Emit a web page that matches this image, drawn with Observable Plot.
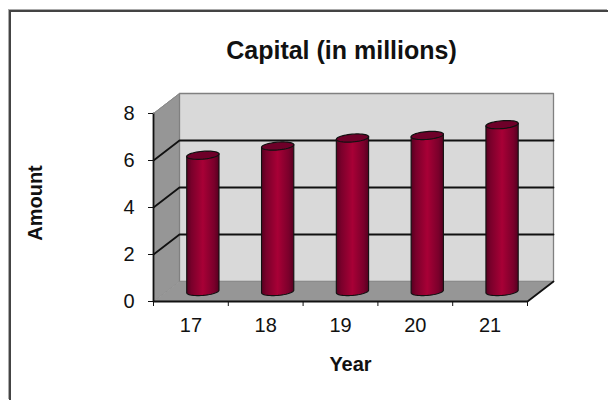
<!DOCTYPE html>
<html>
<head>
<meta charset="utf-8">
<script src="https://cdn.jsdelivr.net/npm/d3@7"></script>
<script src="https://cdn.jsdelivr.net/npm/@observablehq/plot@0.6"></script>
<style>
html,body{margin:0;padding:0;background:#fff;overflow:hidden}
#chart{position:relative;width:608px;height:400px}
#chart svg{position:absolute;left:0;top:0;background:transparent}
#edge{position:absolute;left:9px;top:10px;right:0;bottom:0;border-left:2px solid #444;border-top:2px solid #444;box-shadow:-1px -1px 0 #aaa}
</style>
</head>
<body>
<div id="chart"><div id="edge"></div></div>
<script>
const years = ["17", "18", "19", "20", "21"];
const capital = [5.8, 6.19, 6.53, 6.64, 7.1];
const yTicks = [0, 2, 4, 6, 8];
const gridValues = [2, 4, 6];
const title = "Capital (in millions)";
const xTitle = "Year";
const yTitle = "Amount";

// Oblique depth of the 3-D box, in data units of each scale.
const pxX = 74.8, pxY = 23.5;
const depthX = 26 / pxX;
const depthY = 20 / pxY;
const at = (x, y, d) => ({x: x + d * depthX, y: y + d * depthY});

const leftWall = [at(0, 0, 0), at(0, 0, 1), at(0, 8, 1), at(0, 8, 0)];
const floor = [at(0, 0, 0), at(5, 0, 0), at(5, 0, 1), at(0, 0, 1)];
const backWall = [at(0, 0, 1), at(5, 0, 1), at(5, 8, 1), at(0, 8, 1)];
const gridLines = gridValues.flatMap((v) => [
  {...at(0, v, 0), v}, {...at(0, v, 1), v}, {...at(5, v, 1), v}
]);

// Cylinder geometry: a tilted ellipse, used for the base arc and the rim.
const rx = 16.2, ry = 3.9, tilt = 0.085;
const c = Math.cos(tilt), s = Math.sin(tilt);
const ring = (t) => {
  const a = rx * Math.cos(t), b = ry * Math.sin(t);
  return [(a * c + b * s), (-a * s + b * c)];
};
const arcSteps = d3.range(0, 25).map((i) => Math.PI * (1 - i / 24)); // left to right, through the bottom
const barCentre = (i) => i + 0.5 + 0.46 * depthX;
const bodies = years.flatMap((year, i) => {
  const cx = barCentre(i);
  const [lx, ly] = ring(Math.PI), [rrx, rry] = ring(0);
  const arc = arcSteps.map((t) => { const [X, Y] = ring(t); return {year, x: cx + X / pxX, y: -Y / pxY}; });
  return [{year, x: cx + lx / pxX, y: capital[i] - ly / pxY}, ...arc, {year, x: cx + rrx / pxX, y: capital[i] - rry / pxY}];
});
const rims = years.map((year, i) => ({year, value: capital[i], cx: barCentre(i)}));
const rimSymbol = {draw(ctx) {
  d3.range(0, 48).forEach((i) => {
    const [X, Y] = ring(2 * Math.PI * i / 48);
    if (i === 0) ctx.moveTo(X, Y); else ctx.lineTo(X, Y);
  });
  ctx.closePath();
}};

const defs = () => {
  const svg = d3.create("svg:g");
  const g = svg.append("defs").append("linearGradient").attr("id", "cyl")
    .attr("x1", 0).attr("x2", 1).attr("y1", 0).attr("y2", 0);
  [[0, "#560020"], [0.15, "#7a002b"], [0.5, "#a80036"], [0.85, "#7a002b"], [1, "#560020"]]
    .forEach(([o, col]) => g.append("stop").attr("offset", o).attr("stop-color", col));
  return svg.node();
};

const font = "Liberation Sans, Arial, sans-serif";
const chart = Plot.plot({
  width: 608,
  height: 400,
  marginLeft: 153,
  marginRight: 81,
  marginTop: 113,
  marginBottom: 99,
  style: {fontFamily: font, background: "transparent", overflow: "visible"},
  x: {domain: [0, 5], axis: null},
  y: {domain: [0, 8], axis: null},
  marks: [
    defs,
    Plot.line(leftWall, {x: "x", y: "y", fill: "#969696", stroke: "#8a8a8a", strokeWidth: 1}),
    Plot.line(backWall.concat(backWall[0]), {x: "x", y: "y", fill: "#d9d9d9", stroke: "#808080", strokeWidth: 1.3}),
    Plot.line(floor, {x: "x", y: "y", fill: "#969696", stroke: "none"}),
    Plot.line(gridLines, {x: "x", y: "y", z: "v", stroke: "#111", strokeWidth: 1.8}),
    // front edges of the box
    Plot.line([at(5, 0, 1), at(5, 0, 0), at(0, 0, 0), at(0, 8, 0)], {x: "x", y: "y", stroke: "#111", strokeWidth: 1.8}),
    Plot.line([at(0, 8, 0), at(0, 8, 1)], {x: "x", y: "y", stroke: "#8a8a8a", strokeWidth: 1}),
    // axes
    Plot.axisY({ticks: yTicks, tickSize: 5, tickPadding: 14, fontSize: 20, label: null, tickFormat: (d) => d, stroke: "#111", color: "#111"}),
    Plot.axisX({ticks: [0, 1, 2, 3, 4, 5], tickSize: 5, tickFormat: () => "", label: null, stroke: "#111"}),
    Plot.axisX({ticks: years.map((_, i) => i + 0.5), tickSize: 0, tickPadding: 16, fontSize: 20, label: null, tickFormat: (d) => years[d - 0.5], color: "#111"}),
    // cylinders
    Plot.line(bodies, {x: "x", y: "y", z: "year", dy: -10, fill: "url(#cyl)", stroke: "#111", strokeWidth: 1.1}),
    Plot.dot(rims, {x: "cx", y: "value", dy: -10, symbol: () => rimSymbol, r: 1, fill: "#6e0029", stroke: "#111", strokeWidth: 1.2}),
    // titles
    Plot.text([title], {frameAnchor: "top", lineAnchor: "middle", dx: 1, dy: -63, fontSize: 25, fontWeight: "bold", fill: "#111"}),
    Plot.text([xTitle], {frameAnchor: "bottom", lineAnchor: "middle", dx: 10, dy: 63, fontSize: 20, fontWeight: "bold", fill: "#111"}),
    Plot.text([yTitle], {frameAnchor: "left", textAnchor: "middle", lineAnchor: "middle", dx: -118, dy: -4.5, rotate: -90, fontSize: 20, fontWeight: "bold", fill: "#111"})
  ]
});
document.getElementById("chart").appendChild(chart);
</script>
</body>
</html>
